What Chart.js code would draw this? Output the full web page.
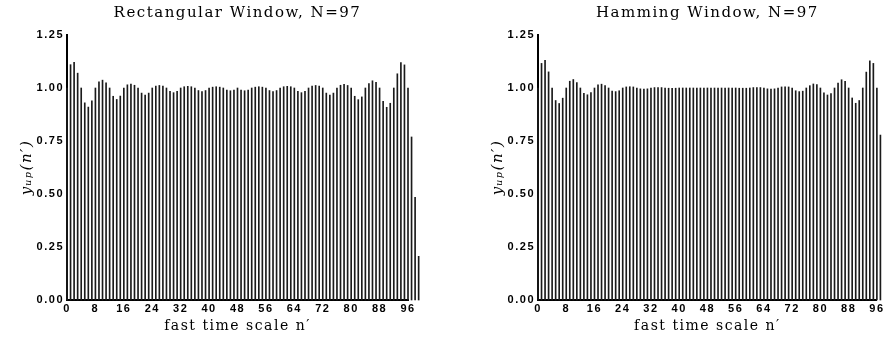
<!DOCTYPE html>
<html><head><meta charset="utf-8">
<script src="https://cdn.jsdelivr.net/npm/chart.js@4.4.1/dist/chart.umd.min.js"></script>
<style>
html,body{margin:0;padding:0;background:#fff;width:885px;height:337px;overflow:hidden;}
#c1{position:absolute;left:0;top:0;}
#c2{position:absolute;left:471px;top:0;}
</style></head><body>
<canvas id="c1" width="442" height="337"></canvas>
<canvas id="c2" width="414" height="337"></canvas>
<script>
const titleRect = 'Rectangular Window, N=97';
const titleHamming = 'Hamming Window, N=97';
const xTitle = 'fast time scale n\u2032';
const yTitle = 'y\u1D64\u209A(n\u2032)';
const xTicks = [0, 8, 16, 24, 32, 40, 48, 56, 64, 72, 80, 88, 96];
const yTicks = [0.00, 0.25, 0.50, 0.75, 1.00, 1.25];

// n' = 0 .. 99
const rectValues = [
  1.000, 1.110, 1.121, 1.070, 1.000, 0.930, 0.910, 0.940, 1.000, 1.029,
  1.037, 1.024, 1.000, 0.961, 0.946, 0.962, 1.000, 1.015, 1.019, 1.013,
  1.000, 0.976, 0.967, 0.976, 1.000, 1.009, 1.012, 1.009, 1.000, 0.984,
  0.978, 0.984, 1.000, 1.006, 1.008, 1.006, 1.000, 0.988, 0.983, 0.988,
  1.000, 1.004, 1.006, 1.004, 1.000, 0.990, 0.987, 0.990, 1.000, 0.990,
  0.987, 0.990, 1.000, 1.004, 1.006, 1.004, 1.000, 0.988, 0.983, 0.988,
  1.000, 1.006, 1.008, 1.006, 1.000, 0.984, 0.978, 0.984, 1.000, 1.009,
  1.012, 1.009, 1.000, 0.976, 0.967, 0.976, 1.000, 1.013, 1.017, 1.012,
  1.000, 0.961, 0.945, 0.958, 1.000, 1.021, 1.034, 1.027, 1.000, 0.937,
  0.909, 0.928, 1.000, 1.067, 1.120, 1.109, 1.000, 0.769, 0.484, 0.206
];

// n' = 0 .. 97
const hammingValues = [
  1.000, 1.116, 1.130, 1.076, 1.000, 0.941, 0.927, 0.952, 1.000, 1.032,
  1.040, 1.025, 1.000, 0.975, 0.968, 0.978, 1.000, 1.015, 1.018, 1.012,
  1.000, 0.986, 0.983, 0.987, 1.000, 1.005, 1.006, 1.005, 1.000, 0.996,
  0.995, 0.996, 1.000, 1.002, 1.002, 1.002, 1.000, 0.999, 0.999, 0.999,
  1.000, 1.000, 1.000, 1.000, 1.000, 1.000, 1.000, 1.000, 1.000, 1.000,
  1.000, 1.000, 1.000, 1.000, 1.000, 1.000, 1.000, 0.999, 0.999, 0.999,
  1.000, 1.002, 1.002, 1.002, 1.000, 0.996, 0.995, 0.996, 1.000, 1.005,
  1.006, 1.005, 1.000, 0.987, 0.983, 0.985, 1.000, 1.011, 1.019, 1.016,
  1.000, 0.977, 0.967, 0.974, 1.000, 1.023, 1.039, 1.031, 1.000, 0.953,
  0.928, 0.941, 1.000, 1.075, 1.128, 1.116, 1.000, 0.778
];

const spacingPlugin = {
  id: 'spacing',
  beforeDraw(chart) { chart.ctx.letterSpacing = '1.5px'; }
};

const tickFont = { family: 'Liberation Sans', size: 11, weight: 'bold' };
const borderCfg = { display: true, color: '#000', width: 2 };

function makeChart(id, title, values, padRight) {
  return new Chart(document.getElementById(id), {
    type: 'bar',
    data: {
      datasets: [{
        data: values.map((v, i) => ({ x: i, y: v })),
        backgroundColor: '#1a1a1a',
        borderWidth: 0,
        barThickness: 1,
        clip: false
      }]
    },
    options: {
      responsive: false,
      animation: false,
      devicePixelRatio: 1,
      layout: { padding: { left: 0, right: padRight, top: 0, bottom: 0 } },
      plugins: {
        legend: { display: false },
        tooltip: { enabled: false },
        title: {
          display: true, text: title, fullSize: false, color: '#000',
          font: { family: 'DejaVu Serif', size: 15, weight: 'normal' },
          padding: { top: 4, bottom: 13 }
        }
      },
      scales: {
        x: {
          type: 'linear', min: 0, max: 96, offset: false,
          grid: { display: false, drawTicks: false },
          border: borderCfg,
          ticks: { color: '#000', font: tickFont, padding: 2, maxRotation: 0, autoSkip: false,
                   callback: v => String(v) },
          afterBuildTicks: s => { s.ticks = xTicks.map(v => ({ value: v })); },
          afterFit: s => { s.height = 37; },
          title: { display: true, text: xTitle, color: '#000',
                   font: { family: 'DejaVu Serif', size: 14 }, padding: { top: 0, bottom: 2 } }
        },
        y: {
          type: 'linear', min: 0, max: 1.25,
          grid: { display: false, drawTicks: false },
          border: borderCfg,
          ticks: { color: '#000', font: tickFont, padding: 3, callback: v => Number(v).toFixed(2) },
          afterBuildTicks: s => { s.ticks = yTicks.map(v => ({ value: v })); },
          afterFit: s => { s.width = 67; },
          title: { display: true, text: yTitle, color: '#000',
                   font: { family: 'DejaVu Serif', size: 15, style: 'italic' }, padding: { top: 18, bottom: 0 } }
        }
      }
    },
    plugins: [spacingPlugin]
  });
}

makeChart('c1', titleRect, rectValues, 34);
makeChart('c2', titleHamming, hammingValues, 6);
</script>
</body></html>
